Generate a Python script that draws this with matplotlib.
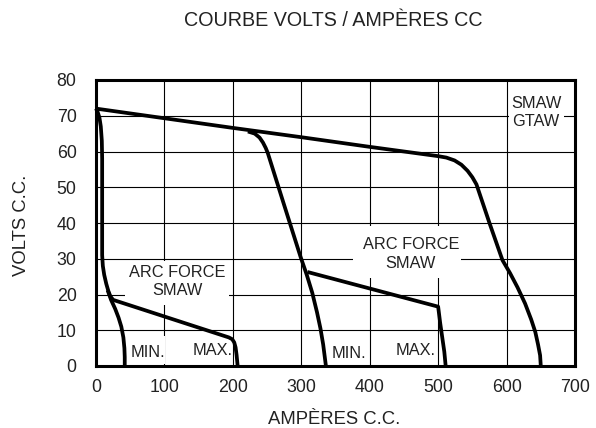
import numpy as np
import matplotlib.pyplot as plt
from matplotlib.patches import Rectangle

plt.rcParams['font.family'] = ['Liberation Sans', 'DejaVu Sans']

# ---------------------------------------------------------------------------
# Data
# ---------------------------------------------------------------------------

# outer curve: SMAW / GTAW max
outer_a = [0, 100, 200, 300, 400, 500, 512, 524, 534, 543, 550, 556,
           575, 594, 605, 616, 627, 636, 642, 646, 649, 650]
outer_v = [72, 69.3, 66.6, 64, 61.3, 58.7, 58.3, 57.5, 56.3, 54.6, 52.8, 50.8,
           40, 29.6, 26, 22, 17.5, 13, 9.5, 6, 3, 0]

# SMAW min curve (knee at ~225 A)
min_a = [222, 232, 239, 244, 248, 251, 275, 299, 308, 316, 323, 328, 332, 334, 336]
min_v = [65.6, 65, 63.9, 62.5, 61, 59.6, 45, 30.5, 25.5, 20.5, 15, 10.5, 6, 3, 0]

# arc force (high range)
arc_hi_a = [309, 500, 503, 506, 509, 511]
arc_hi_v = [26.3, 16.6, 12, 8, 4, 0]

# left vertical + arc force (low range)
arc_lo_a = [0, 2.5, 5, 7, 8.5, 9, 9, 10, 12, 15, 18, 21, 25,
            194, 199, 202, 204, 205.5, 207]
arc_lo_v = [72, 71, 69.5, 67, 63, 58, 31, 28, 25.5, 23, 21, 19.5, 18.5,
            8, 7.5, 6.6, 5.2, 3, 0]

# arc force min branch (low range)
branch_a = [17, 22, 28, 33, 37, 40, 41.5, 42, 42]
branch_v = [21.2, 18.5, 16, 13.5, 11, 8, 5, 2.5, 0]

x_ticks = [0, 100, 200, 300, 400, 500, 600, 700]
y_ticks = [0, 10, 20, 30, 40, 50, 60, 70, 80]

# labels: (text, x, y, mask box x0, x1, y0, y1)
labels = [
    ('ARC FORCE\nSMAW', 119, 23.6, 43, 194, 17.2, 29.5),
    ('ARC FORCE\nSMAW', 460, 31.3, 376, 533, 24.6, 39.3),
    ('SMAW\nGTAW', 643, 70.9, 603, 684, 65.5, 76.5),
    ('MIN.', 76, 3.8, 56, 101, 0.6, 8.5),
    ('MAX.', 171, 4.2, 148, 196, 0.6, 9.0),
    ('MIN.', 370, 3.6, 352, 398, 0.6, 8.0),
    ('MAX.', 467, 4.4, 450, 486, 0.6, 9.0),
]

fig = plt.figure(figsize=(5.96, 4.28), dpi=100)
ax = fig.add_axes([96 / 596, 1 - 366 / 428, 479 / 596, 286 / 428])

ax.set_xlim(0, 700)
ax.set_ylim(0, 80)
ax.set_xticks(x_ticks)
ax.set_yticks(y_ticks)
ax.tick_params(length=0, labelsize=12.8, pad=9, labelcolor='#222222')
ax.tick_params(axis='y', pad=14)
ax.grid(True, color='black', linewidth=0.8)
ax.set_axisbelow(True)
for sp in ax.spines.values():
    sp.set_linewidth(2.2)

# white masks behind the labels so the grid is cut
for text, x, y, x0, x1, y0, y1 in labels:
    ax.add_patch(Rectangle((x0, y0), x1 - x0, y1 - y0, facecolor='white',
                           edgecolor='none', zorder=1.5))
    ax.text(x, y, text, ha='center', va='center', fontsize=11.8,
            color='#222222', zorder=4, linespacing=1.3)

lw = 2.7
for xs, ys in [(outer_a, outer_v), (min_a, min_v), (arc_hi_a, arc_hi_v),
               (arc_lo_a, arc_lo_v), (branch_a, branch_v)]:
    ax.plot(xs, ys, color='black', linewidth=lw, solid_joinstyle='round',
            solid_capstyle='butt', zorder=3, clip_on=False)

fig.text(333 / 596, 1 - 20 / 428, 'COURBE VOLTS / AMPÈRES CC', ha='center',
         va='center', fontsize=14.2, color='#222222')
fig.text(334 / 596, 1 - 419 / 428, 'AMPÈRES C.C.', ha='center', va='center',
         fontsize=13.3, color='#222222')
fig.text(22 / 596, 1 - 225 / 428, 'VOLTS C.C.', ha='center', va='center',
         rotation=90, fontsize=13.3, color='#222222')

plt.savefig('out.png', dpi=100)
